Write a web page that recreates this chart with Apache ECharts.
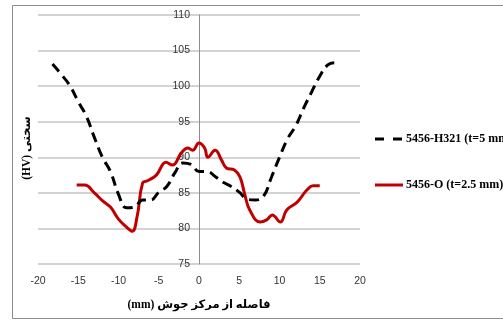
<!DOCTYPE html>
<html>
<head>
<meta charset="utf-8">
<script src="https://cdn.jsdelivr.net/npm/echarts@6/dist/echarts.min.js"></script>
<style>
  html, body { margin: 0; padding: 0; background: #fff; }
  #chart { width: 503px; height: 320px; }
</style>
</head>
<body>
<div id="chart"></div>
<script>
// Hardness profile across the weld centre for two 5456 alloy tempers
const seriesNames = ['5456-H321 (t=5 mm)', '5456-O (t=2.5 mm)'];
const seriesColors = ['#000000', '#c00000'];

const distH321 = [-18.2, -17, -16, -15, -14, -13, -12, -11, -10, -9, -8, -7, -6, -5, -4, -3, -2, -1, 0, 1, 2, 3, 4, 5, 6, 7, 8, 9, 10, 11, 12, 13, 14, 15, 16, 16.8];
const hardH321 = [103.1, 101.5, 100.0, 97.8, 95.8, 92.8, 90.0, 88.0, 84.8, 82.9, 83.0, 84.0, 84.0, 85.1, 85.9, 87.8, 89.2, 89.0, 88.0, 88.0, 87.3, 86.5, 85.9, 85.1, 84.1, 84.0, 84.5, 87.2, 90.0, 92.6, 94.4, 96.9, 99.2, 101.4, 103.0, 103.3];

const distO = [-15.2, -14.2, -13, -12, -11, -10, -9, -8.3, -7.7, -7, -6.4, -5.3, -4.1, -3.3, -2.2, -1.4, -0.8, 0, 0.7, 1.1, 2, 2.8, 3.4, 4.4, 5.1, 5.7, 6.3, 7.6, 8.4, 9.1, 10.1, 10.9, 12.2, 13.4, 14.2, 15];
const hardO = [86.1, 86.1, 85.0, 83.9, 83.0, 81.3, 80.2, 79.6, 81.6, 86.4, 86.7, 87.5, 89.3, 88.9, 90.6, 91.3, 91.0, 92.0, 91.3, 90.0, 91.0, 89.6, 88.5, 88.2, 87.2, 84.7, 82.6, 80.9, 81.2, 81.9, 80.9, 82.6, 83.7, 85.4, 86.0, 86.0];

const xTicks = { min: -20, max: 20, step: 5 };
const yTicks = { min: 75, max: 110, step: 5 };

const xTitle = '(mm) فاصله از مرکز جوش';
const yTitle = '(HV) سختی';

const W = 503, H = 320;
const grid = { left: 38, right: 143, top: 15, bottom: 56 };
const plotWidth = W - grid.left - grid.right;
// shift the vertical axis (line + labels) so it crosses at x = 0
const yAxisOffset = -plotWidth * (0 - xTicks.min) / (xTicks.max - xTicks.min);

const pairs = (xs, ys) => xs.map((x, i) => [x, ys[i]]);
const dashPattern = [10, 6];

// hand-drawn legend: line sample followed by its label
const legendLeft = 375, legendTop = 139, legendStep = 46, sampleLen = 28;
const legendGraphics = [];
seriesNames.forEach((name, i) => {
  const y = legendTop + i * legendStep;
  legendGraphics.push({
    type: 'line',
    silent: true,
    shape: { x1: legendLeft, y1: y, x2: legendLeft + sampleLen, y2: y },
    style: { stroke: seriesColors[i], lineWidth: 3, lineDash: i === 0 ? [9, 9] : null }
  });
  legendGraphics.push({
    type: 'text',
    silent: true,
    x: legendLeft + sampleLen + 3, y: y,
    style: {
      text: name,
      fontFamily: 'Liberation Serif',
      fontWeight: 'bold',
      fontSize: 12,
      fill: '#000',
      align: 'left',
      verticalAlign: 'middle'
    }
  });
});

const chart = echarts.init(document.getElementById('chart'), null, { renderer: 'canvas' });

chart.setOption({
  animation: false,
  backgroundColor: '#fff',
  grid: Object.assign({ containLabel: false }, grid),
  xAxis: {
    type: 'value',
    min: xTicks.min, max: xTicks.max, interval: xTicks.step,
    axisLine: { show: false },
    axisTick: { show: false },
    splitLine: { show: false },
    axisLabel: { margin: 12, color: '#333', fontSize: 10.5, fontFamily: 'Liberation Sans' },
    name: xTitle,
    nameLocation: 'middle',
    nameGap: 35,
    nameTextStyle: { fontFamily: 'Liberation Serif, DejaVu Sans', fontWeight: 'bold', fontSize: 11.5, color: '#000' }
  },
  yAxis: {
    type: 'value',
    position: 'left',
    offset: yAxisOffset,
    min: yTicks.min, max: yTicks.max, interval: yTicks.step,
    axisLine: { show: true, onZero: false, lineStyle: { color: '#8c8c8c', width: 1 } },
    axisTick: { show: false },
    axisLabel: { margin: 9, color: '#333', fontSize: 10.5, fontFamily: 'Liberation Sans' },
    splitLine: { show: true, lineStyle: { color: '#c4c4c4', width: 1.5 } }
  },
  legend: { show: false },
  graphic: [
    {
      type: 'rect',
      silent: true,
      shape: { x: 12.5, y: 5.5, width: 600, height: 313 },
      style: { fill: 'none', stroke: '#8c8c8c', lineWidth: 1 }
    },
    {
      type: 'text',
      silent: true,
      x: 27, y: 148,
      rotation: Math.PI / 2,
      style: {
        text: yTitle,
        fontFamily: 'Liberation Serif, DejaVu Sans',
        fontWeight: 'bold',
        fontSize: 11.5,
        fill: '#000',
        align: 'center',
        verticalAlign: 'middle'
      }
    }
  ].concat(legendGraphics),
  series: [
    {
      name: seriesNames[0],
      type: 'line',
      data: pairs(distH321, hardH321),
      smooth: 0.45,
      symbol: 'none',
      lineStyle: { color: seriesColors[0], width: 3, type: dashPattern },
      z: 3
    },
    {
      name: seriesNames[1],
      type: 'line',
      data: pairs(distO, hardO),
      smooth: 0.45,
      symbol: 'none',
      lineStyle: { color: seriesColors[1], width: 3 },
      z: 2
    }
  ]
});
</script>
</body>
</html>
